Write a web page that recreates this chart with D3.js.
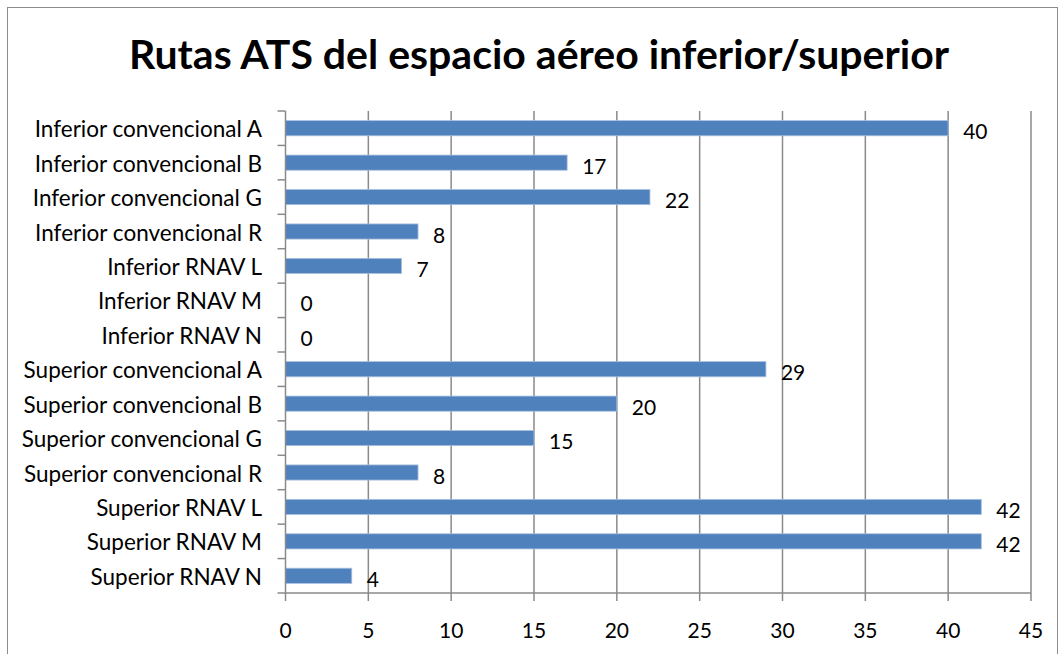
<!DOCTYPE html>
<html>
<head>
<meta charset="utf-8">
<script src="https://cdn.jsdelivr.net/npm/d3@7/dist/d3.min.js"></script>
<style>
  body { margin: 0; background: #fff; }
  svg { display: block; font-family: Lato, "Open Sans", sans-serif; }
</style>
</head>
<body>
<svg id="chart" width="1061" height="654"></svg>
<script>
const titulo = "Rutas ATS del espacio aéreo inferior/superior"

const categorias = [
  "Inferior convencional A", "Inferior convencional B", "Inferior convencional G",
  "Inferior convencional R", "Inferior RNAV L", "Inferior RNAV M", "Inferior RNAV N",
  "Superior convencional A", "Superior convencional B", "Superior convencional G",
  "Superior convencional R", "Superior RNAV L", "Superior RNAV M", "Superior RNAV N"
]
const valores = [40, 17, 22, 8, 7, 0, 0, 29, 20, 15, 8, 42, 42, 4]
const ticksX = [0, 5, 10, 15, 20, 25, 30, 35, 40, 45]

const svg = d3.select('#chart')

// marco exterior
svg.append('rect')
  .attr('x', 7.5).attr('y', 7.5)
  .attr('width', 1050).attr('height', 660)
  .attr('fill', 'none')
  .attr('stroke', '#8c8c8c')
  .attr('stroke-width', 1)

svg.append('text')
  .attr('x', 539).attr('y', 69)
  .attr('text-anchor', 'middle')
  .attr('font-size', 41)
  .attr('font-weight', 'bold')
  .attr('fill', '#000')
  .text(titulo)

const mIzq = 285.5, mDer = 1031, mArr = 111, mAba = 593

const x = d3.scaleLinear().domain([0, 45]).range([mIzq, mDer])
const y = d3.scaleBand().domain(categorias).range([mArr, mAba]).paddingInner(0.56).paddingOuter(0.28)

// lineas de cuadricula
svg.append('g')
  .selectAll('line')
  .data(ticksX.slice(1))
  .join('line')
  .attr('x1', d => x(d)).attr('x2', d => x(d))
  .attr('y1', mArr).attr('y2', mAba)
  .attr('stroke', '#8a8a8a')
  .attr('stroke-width', 1.5)

// barras
svg.append('g')
  .selectAll('rect')
  .data(valores)
  .join('rect')
  .attr('x', x(0))
  .attr('y', (d, i) => y(categorias[i]))
  .attr('width', d => x(d) - x(0))
  .attr('height', y.bandwidth())
  .attr('fill', '#4f81bd')
  .attr('stroke', '#a7c0de')
  .attr('stroke-width', 0.8)

// etiquetas de valor
svg.append('g')
  .selectAll('text')
  .data(valores)
  .join('text')
  .attr('x', d => x(d) + 15)
  .attr('y', (d, i) => y(categorias[i]) + y.bandwidth() / 2 + 11)
  .attr('font-size', 21)
  .attr('fill', '#000')
  .text(d => d)

// eje Y
const ejeY = svg.append('g')
ejeY.append('line')
  .attr('x1', mIzq).attr('x2', mIzq)
  .attr('y1', mArr).attr('y2', mAba)
  .attr('stroke', '#8a8a8a').attr('stroke-width', 1.5)
const paso = (mAba - mArr) / categorias.length
ejeY.selectAll('line.tick')
  .data(d3.range(categorias.length + 1))
  .join('line')
  .attr('class', 'tick')
  .attr('x1', mIzq - 8).attr('x2', mIzq)
  .attr('y1', d => mArr + d * paso).attr('y2', d => mArr + d * paso)
  .attr('stroke', '#8a8a8a').attr('stroke-width', 1.5)
ejeY.selectAll('text')
  .data(categorias)
  .join('text')
  .attr('x', 262)
  .attr('y', d => y(d) + y.bandwidth() / 2 + 9)
  .attr('text-anchor', 'end')
  .attr('font-size', 22.5)
  .attr('fill', '#000')
  .text(d => d)

// eje X
const ejeX = svg.append('g')
ejeX.append('line')
  .attr('x1', mIzq).attr('x2', mDer)
  .attr('y1', mAba).attr('y2', mAba)
  .attr('stroke', '#8a8a8a').attr('stroke-width', 1.5)
ejeX.selectAll('line.tick')
  .data(ticksX)
  .join('line')
  .attr('class', 'tick')
  .attr('x1', d => x(d)).attr('x2', d => x(d))
  .attr('y1', mAba).attr('y2', mAba + 8)
  .attr('stroke', '#8a8a8a').attr('stroke-width', 1.5)
ejeX.selectAll('text')
  .data(ticksX)
  .join('text')
  .attr('x', d => x(d))
  .attr('y', 638)
  .attr('text-anchor', 'middle')
  .attr('font-size', 21)
  .attr('fill', '#000')
  .text(d => d)
</script>
</body>
</html>
